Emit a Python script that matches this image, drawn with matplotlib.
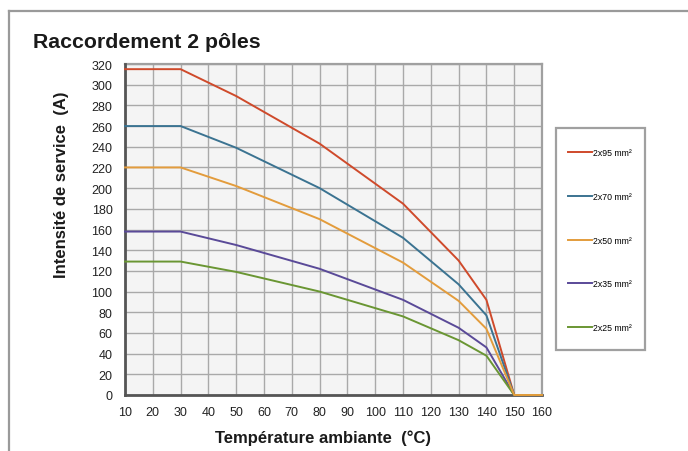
import matplotlib
matplotlib.use("Agg")
import matplotlib.pyplot as plt
from matplotlib.lines import Line2D
from matplotlib.patches import Rectangle

plt.rcParams['font.family'] = ['Liberation Sans', 'DejaVu Sans']

# Data
temps = [10, 30, 50, 80, 110, 130, 140, 150, 160]
series_labels = ["2x95 mm²", "2x70 mm²", "2x50 mm²", "2x35 mm²", "2x25 mm²"]
s95 = [315, 315, 289, 243, 185, 130, 92, 0, 0]
s70 = [260, 260, 239, 200, 152, 107, 77, 0, 0]
s50 = [220, 220, 202, 170, 128, 91, 64, 0, 0]
s35 = [158, 158, 145, 122, 92, 65, 46, 0, 0]
s25 = [129, 129, 119, 100, 76, 53, 38, 0, 0]
colors = ["#cf4a2b", "#3b7391", "#e39c3c", "#5a4a98", "#6a9633"]
x_ticks = list(range(10, 161, 10))
y_ticks = list(range(0, 321, 20))

W, H = 688, 452
fig = plt.figure(figsize=(W / 100, H / 100), dpi=100)

# Outer frame (top and left border)
fig.add_artist(Line2D([9 / W, 1.0], [1 - 12 / H, 1 - 12 / H], color="#9a9a9a", lw=1.6,
                      transform=fig.transFigure))
fig.add_artist(Line2D([9 / W, 9 / W], [1 - 12 / H, 0.0], color="#9a9a9a", lw=1.6,
                      transform=fig.transFigure))

ax = fig.add_axes([125 / W, (H - 396) / H, 417 / W, 331 / H])
ax.set_facecolor("#f4f4f4")

all_series = [s95, s70, s50, s35, s25]
zorders = [5, 5, 5.5, 5, 5]
for vals, lab, col, z in zip(all_series, series_labels, colors, zorders):
    ax.plot(temps, vals, color=col, lw=1.4, label=lab, zorder=z, clip_on=False)

ax.set_xlim(10, 160)
ax.set_ylim(0, 320)
ax.set_xticks(x_ticks)
ax.set_yticks(y_ticks)
ax.grid(True, color="#a9a9a9", lw=1.0)
ax.set_axisbelow(True)
ax.tick_params(length=0, labelsize=9, labelcolor="#222222")
ax.tick_params(axis="y", pad=9)
ax.tick_params(axis="x", pad=8)

for side in ("top", "right"):
    ax.spines[side].set_color("#a0a0a0")
    ax.spines[side].set_linewidth(1.6)
for side in ("left", "bottom"):
    ax.spines[side].set_color("#555555")
    ax.spines[side].set_linewidth(2.0)
    ax.spines[side].set_zorder(4)

# Titles and labels
fig.text(33 / W, 1 - 43 / H, "Raccordement 2 pôles", fontsize=15.3, fontweight="bold",
         color="#1a1a1a", ha="left", va="center")
fig.text(62 / W, 1 - 185 / H, "Intensité de service  (A)", fontsize=12, fontweight="bold",
         color="#1a1a1a", rotation=90, ha="center", va="center")
fig.text(323 / W, 1 - 438 / H, "Température ambiante  (°C)", fontsize=12, fontweight="bold",
         color="#1a1a1a", ha="center", va="center")

# Legend box
fig.add_artist(Rectangle((556 / W, 1 - 351 / H), 89 / W, 222 / H, transform=fig.transFigure,
                         facecolor="white", edgecolor="#a0a0a0", lw=1.6))
leg = fig.legend(loc="upper left", bbox_to_anchor=(568 / W, 1 - 149.5 / H),
                 fontsize=6.3, frameon=False,
                 handlelength=2.7, handletextpad=0.12, labelspacing=3.95,
                 borderpad=0.0, borderaxespad=0.0)
for h in leg.get_lines():
    h.set_linewidth(1.4)

fig.savefig("out.png", dpi=100)
